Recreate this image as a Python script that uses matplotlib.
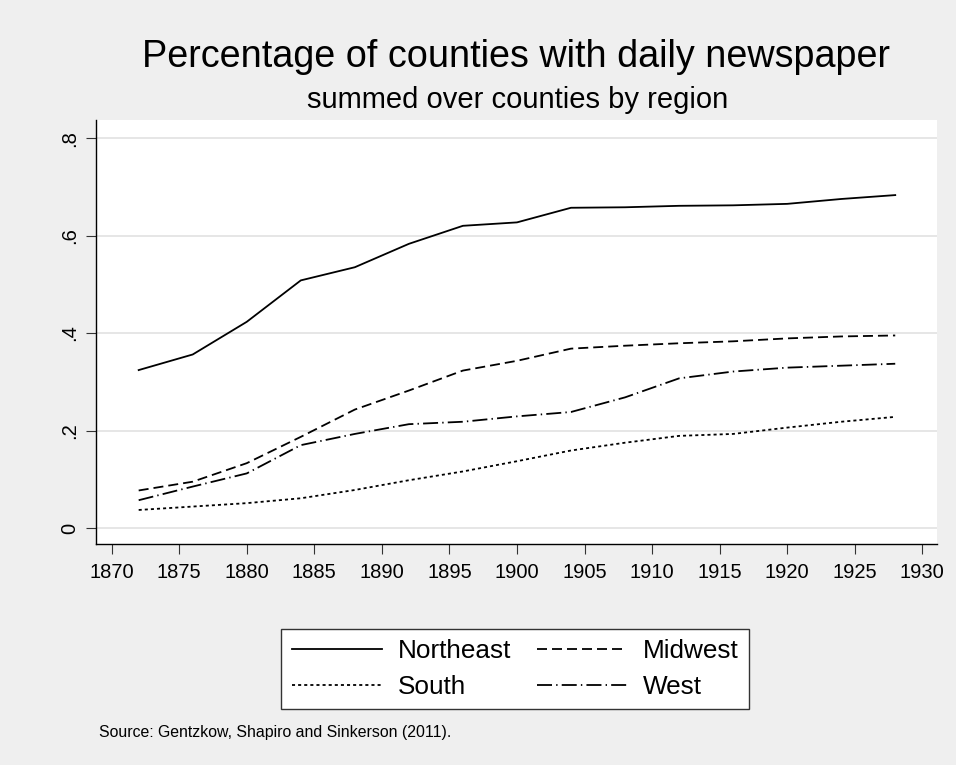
import matplotlib
matplotlib.use('Agg')
from matplotlib import pyplot as plt

plt.rcParams['font.family'] = ['Liberation Sans', 'DejaVu Sans']
plt.rcParams['lines.scale_dashes'] = False

years = [1872, 1876, 1880, 1884, 1888, 1892, 1896, 1900,
         1904, 1908, 1912, 1916, 1920, 1924, 1928]
northeast = [0.324, 0.356, 0.423, 0.508, 0.535, 0.583, 0.620, 0.627,
             0.657, 0.658, 0.661, 0.662, 0.665, 0.675, 0.683]
midwest = [0.077, 0.095, 0.133, 0.187, 0.243, 0.282, 0.323, 0.343,
           0.368, 0.374, 0.379, 0.383, 0.389, 0.393, 0.395]
south = [0.037, 0.044, 0.051, 0.061, 0.078, 0.098, 0.116, 0.137,
         0.159, 0.175, 0.189, 0.193, 0.206, 0.218, 0.228]
west = [0.057, 0.085, 0.112, 0.170, 0.193, 0.213, 0.218, 0.229,
        0.238, 0.268, 0.307, 0.321, 0.329, 0.333, 0.337]

xticks = list(range(1870, 1931, 5))
yticks = [0, 0.2, 0.4, 0.6, 0.8]
ylabels = ['0', '.2', '.4', '.6', '.8']

bg = '#efefef'
fig = plt.figure(figsize=(9.56, 7.65), dpi=100, facecolor=bg)
ax = fig.add_axes([0.1004, 0.2889, 0.8797, 0.5542])
ax.set_facecolor('white')

lw = 1.3
ax.plot(years, northeast, color='black', lw=lw, ls='-', label='Northeast')
ax.plot(years, midwest, color='black', lw=lw, ls=(0, (7.2, 3.6)), label='Midwest')
ax.plot(years, south, color='black', lw=lw, ls=(0, (2.2, 2.2)), label='South')
ax.plot(years, west, color='black', lw=lw, ls=(0, (10.8, 3, 1, 3)), label='West')

ax.set_xlim(1868.84, 1931.09)
ax.set_ylim(-0.0328, 0.837)
ax.set_xticks(xticks)
ax.set_yticks(yticks)
ax.set_yticklabels(ylabels, rotation=90, va='center')
ax.tick_params(axis='both', labelsize=14.5, length=7, width=0.8, colors='#333333',
               labelcolor='black')
ax.tick_params(axis='x', pad=7)
ax.tick_params(axis='y', pad=5)
ax.grid(axis='y', color='#e4e4e4', lw=1.3)
ax.set_axisbelow(True)
for s in ['top', 'right']:
    ax.spines[s].set_visible(False)
for s in ['left', 'bottom']:
    ax.spines[s].set_linewidth(1.0)
    ax.spines[s].set_color('black')

fig.text(0.540, 0.9124, 'Percentage of counties with daily newspaper',
         ha='center', va='baseline', fontsize=27.2)
fig.text(0.541, 0.8588, 'summed over counties by region',
         ha='center', va='baseline', fontsize=21)

# legend fills column-wise, so reorder to get NE/MW on the first row
handles, labels = ax.get_legend_handles_labels()
order = [0, 2, 1, 3]
leg = fig.legend([handles[i] for i in order], [labels[i] for i in order],
                 ncol=2, loc='center', bbox_to_anchor=(0.539, 0.1255),
                 fontsize=18.8, frameon=True, fancybox=False, framealpha=1,
                 handlelength=3.45, columnspacing=1.0, handletextpad=0.6,
                 borderpad=0.4, labelspacing=0.45, borderaxespad=0)
leg.get_frame().set_edgecolor('#333333')
leg.get_frame().set_facecolor('white')
leg.get_frame().set_linewidth(1.0)

fig.text(0.104, 0.042, 'Source: Gentzkow, Shapiro and Sinkerson (2011).',
         ha='left', va='center', fontsize=11.4)

fig.savefig('out.png', dpi=100, facecolor=bg)
